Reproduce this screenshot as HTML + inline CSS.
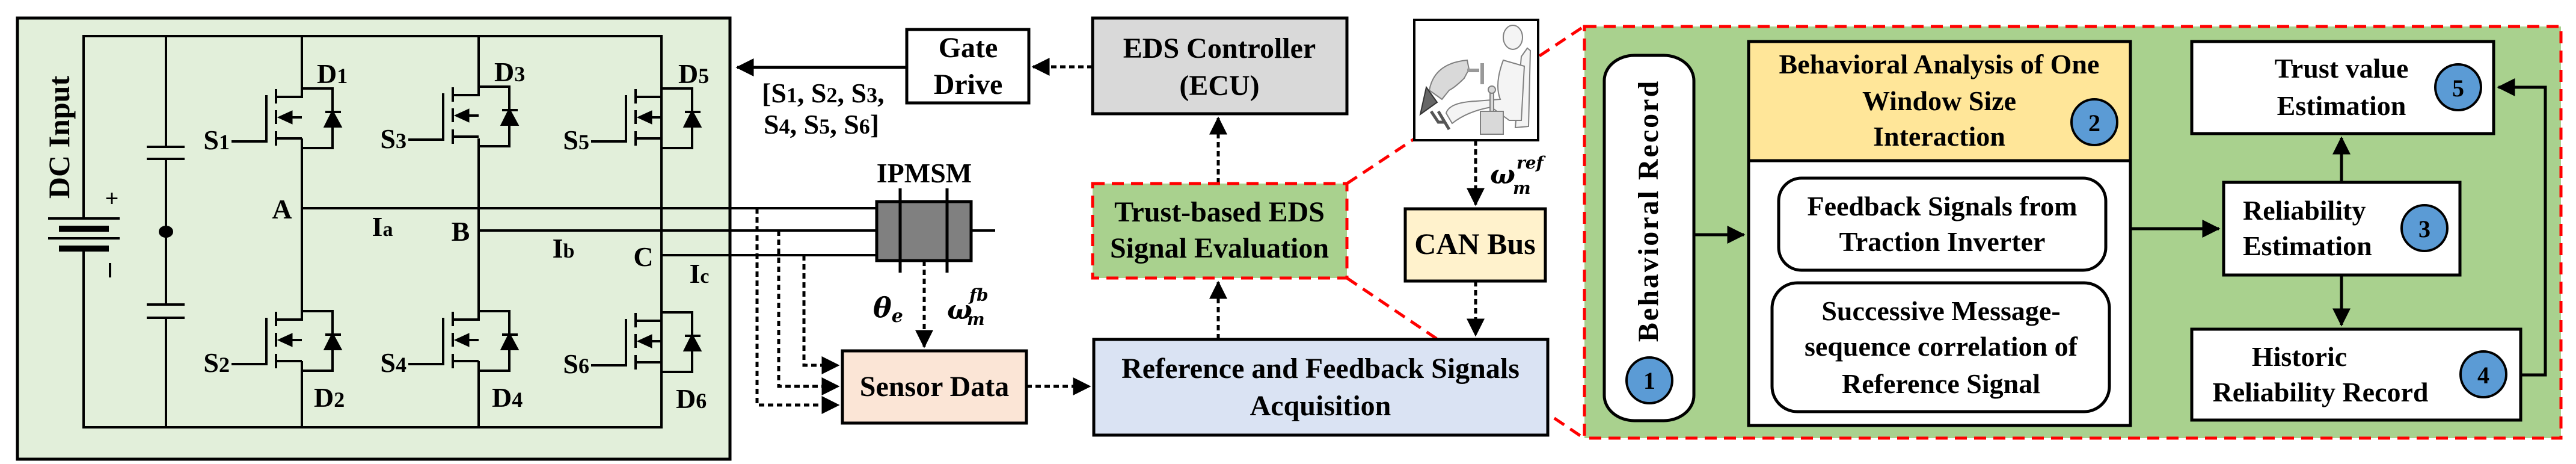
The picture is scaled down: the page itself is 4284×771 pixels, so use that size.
<!DOCTYPE html>
<html><head><meta charset="utf-8"><style>
html,body{margin:0;padding:0;background:#fff;}
svg{display:block;font-family:"Liberation Serif","Times New Roman",serif;}
text{font-family:"Liberation Serif","Times New Roman",serif;font-weight:bold;fill:#000;}
text.m, .m{font-family:"DejaVu Serif","Liberation Serif",serif;font-style:italic;font-weight:bold;}
</style></head><body>
<svg width="4284" height="771" viewBox="0 0 4284 771" xmlns="http://www.w3.org/2000/svg" font-family="Liberation Serif, serif" font-weight="bold">
<defs>
<marker id="ah" markerWidth="6" markerHeight="6" refX="5.5" refY="3" orient="auto" markerUnits="strokeWidth"><path d="M0,0 L6,3 L0,6 z" fill="#000"/></marker>
<g id="mos" stroke="#000" stroke-width="4" fill="none">
 <path d="M502,147 V161 H459"/>
 <path d="M459,148 V172 M459,183 V206 M459,218 V242"/>
 <path d="M443,158 V235 H385"/>
 <path d="M480,195 H502"/>
 <path d="M459,230 H502"/>
 <path d="M502,147 H553 V246 H502"/>
 <path d="M541,186 H567"/>
 <path d="M553,186 L541,210 H566 Z" fill="#000"/>
 <path d="M462,195 L486,184 L486,206 Z" fill="#000" stroke-width="1"/>
</g>
</defs>

<rect x="29" y="30" width="1185" height="733" fill="#e2efda" stroke="#000" stroke-width="5"/>
<g stroke="#000" stroke-width="4" fill="none">
 <path d="M139,363 V60 H1100 V710 H139 V413"/>
 <path d="M276,60 V244 M276,264 V506 M276,528 V710"/>
 <path d="M244,244 H307 M244,264 H307 M244,506 H307 M244,528 H307"/>
 <path d="M80,363 H199 M80,396 H199"/>
 <path d="M98,380 H181 M98,413 H181" stroke-width="10"/>
 <path d="M502,60 V147 M502,230 V517 M502,600 V710"/>
 <path d="M796,60 V147 M796,230 V517 M796,600 V710"/>
 <path d="M1100,230 V517"/>
 <path d="M502,346 H1458 M796,383 H1458 M1100,424 H1458 M1615,383 H1655"/>
</g>
<ellipse cx="276" cy="385" rx="12" ry="10" fill="#000"/>
<text x="186" y="343" font-size="40" font-weight="normal" text-anchor="middle">+</text>
<rect x="181" y="437" width="4" height="24" fill="#000"/>
<text transform="translate(115,228) rotate(-90)" font-size="50" text-anchor="middle">DC Input</text>

<use href="#mos"/>
<use href="#mos" transform="translate(294,-3)"/>
<use href="#mos" transform="translate(598,0)"/>
<use href="#mos" transform="translate(0,370)"/>
<use href="#mos" transform="translate(294,370)"/>
<use href="#mos" transform="translate(598,372)"/>

<g font-size="46">
<text x="382" y="248" text-anchor="end">S<tspan font-size="36">1</tspan></text>
<text x="676" y="246" text-anchor="end">S<tspan font-size="36">3</tspan></text>
<text x="980" y="248" text-anchor="end">S<tspan font-size="36">5</tspan></text>
<text x="382" y="618" text-anchor="end">S<tspan font-size="36">2</tspan></text>
<text x="676" y="618" text-anchor="end">S<tspan font-size="36">4</tspan></text>
<text x="980" y="620" text-anchor="end">S<tspan font-size="36">6</tspan></text>
<text x="527" y="138">D<tspan font-size="36">1</tspan></text>
<text x="822" y="135">D<tspan font-size="36">3</tspan></text>
<text x="1128" y="138">D<tspan font-size="36">5</tspan></text>
<text x="522" y="676">D<tspan font-size="36">2</tspan></text>
<text x="818" y="676">D<tspan font-size="36">4</tspan></text>
<text x="1124" y="678">D<tspan font-size="36">6</tspan></text>
<text x="469" y="363" text-anchor="middle">A</text>
<text x="766" y="400" text-anchor="middle">B</text>
<text x="1070" y="442" text-anchor="middle">C</text>
<text x="636" y="392" text-anchor="middle">I<tspan font-size="34">a</tspan></text>
<text x="937" y="428" text-anchor="middle">I<tspan font-size="34">b</tspan></text>
<text x="1163" y="470" text-anchor="middle">I<tspan font-size="34">c</tspan></text>
<text x="1267" y="170">[S<tspan font-size="36">1</tspan>, S<tspan font-size="36">2</tspan>, S<tspan font-size="36">3</tspan>,</text>
<text x="1270" y="222">S<tspan font-size="36">4</tspan>, S<tspan font-size="36">5</tspan>, S<tspan font-size="36">6</tspan>]</text>
<text x="1537" y="303" text-anchor="middle">IPMSM</text>
</g>

<rect x="1458" y="335" width="157" height="98" fill="#808080" stroke="#000" stroke-width="5"/>
<path d="M1497,313 V453 M1575,313 V453" stroke="#000" stroke-width="5"/>

<rect x="1508" y="49" width="203" height="122" fill="#fff" stroke="#000" stroke-width="5"/>
<text x="1610" y="95" font-size="48" text-anchor="middle">Gate</text>
<text x="1610" y="156" font-size="48" text-anchor="middle">Drive</text>
<path d="M1508,112 H1226" stroke="#000" stroke-width="5" marker-end="url(#ah)"/>

<rect x="1817" y="30" width="423" height="159" fill="#d9d9d9" stroke="#000" stroke-width="5"/>
<text x="2028" y="96" font-size="48" text-anchor="middle">EDS Controller</text>
<text x="2028" y="158" font-size="48" text-anchor="middle">(ECU)</text>

<g stroke="#000" stroke-width="5" fill="none" stroke-dasharray="9 6" marker-end="url(#ah)">
 <path d="M1817,111 H1718"/>
 <path d="M2026,305 V196"/>
 <path d="M2026,564 V469"/>
 <path d="M1707,642 H1812"/>
 <path d="M1537,433 V576"/>
 <path d="M1259,346 V673 H1394"/>
 <path d="M1295,383 V642 H1394"/>
 <path d="M1337,424 V607 H1394"/>
 <path d="M2454,233 V340"/>
 <path d="M2454,467 V557"/>
</g>

<g stroke="#ff0000" stroke-width="5" stroke-dasharray="20 12" fill="none">
 <path d="M2240,305 L2634,44"/>
 <path d="M2240,462 L2634,728"/>
</g>

<rect x="1817" y="305" width="423" height="157" fill="#a9d18e" stroke="#ff0000" stroke-width="5" stroke-dasharray="20 12"/>
<text x="2028" y="368" font-size="48" text-anchor="middle">Trust-based EDS</text>
<text x="2028" y="428" font-size="48" text-anchor="middle">Signal Evaluation</text>

<rect x="1401" y="583" width="306" height="120" fill="#fbe5d6" stroke="#000" stroke-width="5"/>
<text x="1554" y="658" font-size="48" text-anchor="middle">Sensor Data</text>

<rect x="1819" y="564" width="755" height="159" fill="#dae3f3" stroke="#000" stroke-width="5"/>
<text x="2196" y="628" font-size="48" text-anchor="middle">Reference and Feedback Signals</text>
<text x="2196" y="690" font-size="48" text-anchor="middle">Acquisition</text>

<rect x="2337" y="347" width="233" height="120" fill="#fff2cc" stroke="#000" stroke-width="5"/>
<text x="2453" y="422" font-size="50" text-anchor="middle">CAN Bus</text>

<text class="m" x="1452" y="527" font-size="46">θ<tspan font-size="30" dy="8">e</tspan></text>
<text class="m" x="1575" y="530" font-size="44">ω</text>
<text class="m" x="1612" y="500" font-size="28">fb</text>
<text class="m" x="1608" y="540" font-size="28">m</text>
<text class="m" x="2478" y="305" font-size="44">ω</text>
<text class="m" x="2522" y="280" font-size="28">ref</text>
<text class="m" x="2516" y="322" font-size="28">m</text>

<rect x="2352" y="33" width="206" height="200" fill="#fff" stroke="#000" stroke-width="4"/>
<g stroke="#808080" stroke-width="2" fill="#f4f4f4">
 <path d="M2530,94 L2540,80 L2545,84 L2542,210 L2520,212 Z"/>
 <path d="M2500,100 Q2485,140 2495,165 L2455,168 Q2410,170 2405,188 L2415,205 Q2440,185 2480,178 L2510,200 L2530,200 L2535,110 Z"/>
 <ellipse cx="2516" cy="62" rx="16" ry="20"/>
 <rect x="2462" y="185" width="38" height="38" fill="#d9d9d9"/>
 <rect x="2478" y="150" width="6" height="35" fill="#d9d9d9"/>
 <circle cx="2481" cy="149" r="6" fill="#d9d9d9"/>
</g>
<path d="M2377,150 Q2385,105 2440,100 L2443,115 L2435,130 Q2420,145 2410,150 L2398,165 Z" fill="#d9d9d9" stroke="#808080" stroke-width="2"/>
<path d="M2440,117 H2460 M2465,105 V140" stroke="#999" stroke-width="6" fill="none"/>
<path d="M2372,145 L2390,170 L2362,190 Z" fill="#666" stroke="#333" stroke-width="2"/>
<path d="M2380,185 L2392,203 H2402 M2392,185 L2410,215" stroke="#555" stroke-width="5" fill="none"/>

<rect x="2635" y="44" width="1624" height="684" fill="#a9d18e" stroke="#ff0000" stroke-width="5" stroke-dasharray="20 12"/>

<rect x="2668" y="92" width="149" height="607" rx="50" ry="42" fill="#fff" stroke="#000" stroke-width="5"/>
<text transform="translate(2757,350) rotate(-90)" font-size="48" text-anchor="middle" letter-spacing="3">Behavioral Record</text>
<circle cx="2743" cy="632" r="38" fill="#5b9bd5" stroke="#000" stroke-width="4"/>
<text x="2743" y="646" font-size="40" font-weight="normal" text-anchor="middle">1</text>

<rect x="2908" y="69" width="635" height="638" fill="#fff" stroke="#000" stroke-width="5"/>
<rect x="2908" y="69" width="635" height="198" fill="#ffe699" stroke="#000" stroke-width="5"/>
<text x="3225" y="122" font-size="46" text-anchor="middle">Behavioral Analysis of One</text>
<text x="3225" y="183" font-size="46" text-anchor="middle">Window Size</text>
<text x="3225" y="242" font-size="46" text-anchor="middle">Interaction</text>
<circle cx="3483" cy="203" r="38" fill="#5b9bd5" stroke="#000" stroke-width="4"/>
<text x="3483" y="218" font-size="40" font-weight="normal" text-anchor="middle">2</text>

<rect x="2958" y="296" width="544" height="153" rx="38" fill="#fff" stroke="#000" stroke-width="5"/>
<text x="3230" y="358" font-size="46" text-anchor="middle">Feedback Signals from</text>
<text x="3230" y="417" font-size="46" text-anchor="middle">Traction Inverter</text>

<rect x="2947" y="470" width="561" height="214" rx="42" fill="#fff" stroke="#000" stroke-width="5"/>
<text x="3228" y="532" font-size="46" text-anchor="middle">Successive Message-</text>
<text x="3228" y="591" font-size="46" text-anchor="middle">sequence correlation of</text>
<text x="3228" y="653" font-size="46" text-anchor="middle">Reference Signal</text>

<rect x="3645" y="69" width="502" height="153" fill="#fff" stroke="#000" stroke-width="5"/>
<text x="3894" y="129" font-size="46" text-anchor="middle">Trust value</text>
<text x="3894" y="191" font-size="46" text-anchor="middle">Estimation</text>
<circle cx="4088" cy="145" r="38" fill="#5b9bd5" stroke="#000" stroke-width="4"/>
<text x="4088" y="160" font-size="40" font-weight="normal" text-anchor="middle">5</text>

<rect x="3698" y="303" width="393" height="154" fill="#fff" stroke="#000" stroke-width="5"/>
<text x="3730" y="365" font-size="46">Reliability</text>
<text x="3730" y="424" font-size="46">Estimation</text>
<circle cx="4032" cy="379" r="38" fill="#5b9bd5" stroke="#000" stroke-width="4"/>
<text x="4032" y="394" font-size="40" font-weight="normal" text-anchor="middle">3</text>

<rect x="3645" y="547" width="547" height="151" fill="#fff" stroke="#000" stroke-width="5"/>
<text x="3824" y="608" font-size="46" text-anchor="middle">Historic</text>
<text x="3859" y="667" font-size="46" text-anchor="middle">Reliability Record</text>
<circle cx="4130" cy="622" r="38" fill="#5b9bd5" stroke="#000" stroke-width="4"/>
<text x="4130" y="637" font-size="40" font-weight="normal" text-anchor="middle">4</text>

<g stroke="#000" stroke-width="5" fill="none" marker-end="url(#ah)">
 <path d="M2817,390 H2900"/>
 <path d="M3543,380 H3690"/>
 <path d="M3894,303 V229"/>
 <path d="M3894,457 V540"/>
 <path d="M4192,623 H4233 V145 H4155"/>
</g>
</svg>
</body></html>
